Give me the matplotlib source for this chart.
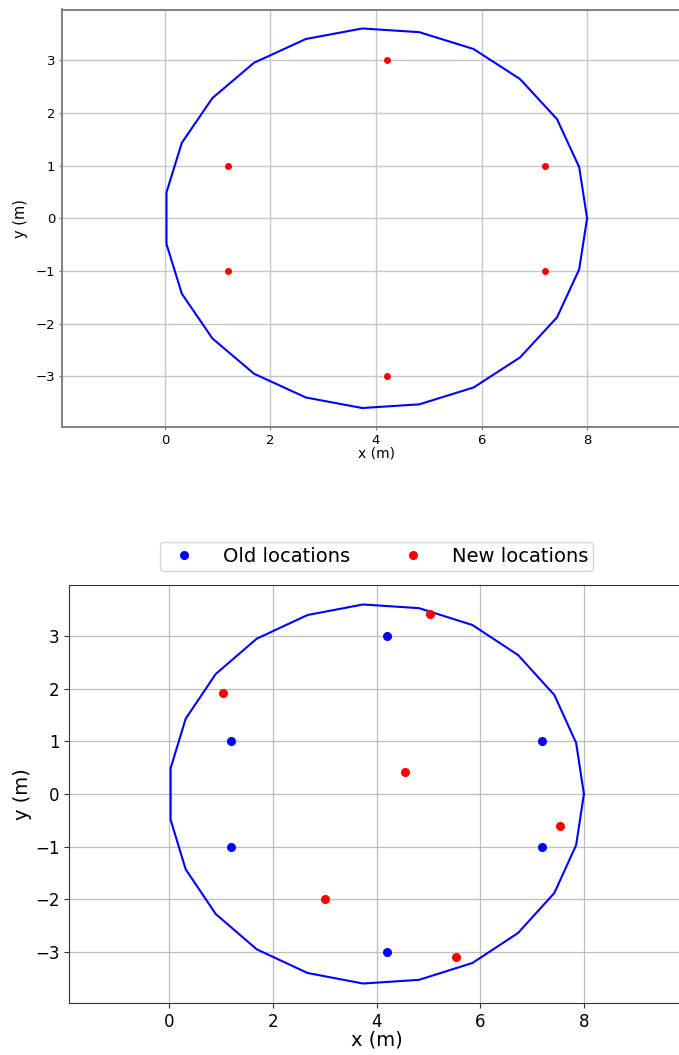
import numpy as np
import matplotlib
matplotlib.use('Agg')
import matplotlib.pyplot as plt

# boundary polygon of the room (m)
wall_x = [8.00, 7.85, 7.43, 6.73, 5.85, 4.82, 3.74, 2.67, 1.69, 0.90, 0.32, 0.03,
          0.03, 0.32, 0.90, 1.69, 2.67, 3.74, 4.82, 5.85, 6.73, 7.43, 7.85, 8.00]
wall_y = [0.00, 0.97, 1.88, 2.64, 3.21, 3.53, 3.60, 3.40, 2.95, 2.28, 1.43, 0.49,
          -0.49, -1.43, -2.28, -2.95, -3.40, -3.60, -3.53, -3.21, -2.64, -1.88, -0.97, 0.00]

# sensor positions
old_x = [1.2, 1.2, 4.2, 4.2, 7.2, 7.2]
old_y = [1.0, -1.0, 3.0, -3.0, 1.0, -1.0]

new_x = [1.04, 3.00, 5.03, 4.55, 7.53, 5.53]
new_y = [1.92, -2.00, 3.41, 0.41, -0.60, -3.10]

W, H = 679, 1055
fig = plt.figure(figsize=(W / 100, H / 100), dpi=100)

# ---- top: original layout
ax1 = fig.add_axes([62 / W, 1 - 427 / H, (690 - 62) / W, (427 - 9.5) / H])
ax1.plot(wall_x, wall_y, color='blue', lw=1.5, zorder=3)
ax1.plot(old_x, old_y, 'o', color='red', markersize=4, zorder=4)
ax1.set_xlim(-1.95, 9.95)
ax1.set_ylim(-3.96, 3.96)
ax1.set_xticks([0, 2, 4, 6, 8])
ax1.set_yticks([-3, -2, -1, 0, 1, 2, 3])
ax1.grid(True, color='#c8c8c8', lw=1.0)
ax1.set_axisbelow(True)
ax1.tick_params(labelsize=9.5, length=2.5, pad=2.5, color='#777777')
for s in ax1.spines.values():
    s.set_color('#777777')
    s.set_linewidth(1.3)
ax1.set_xlabel('x (m)', fontsize=10, labelpad=0)
ax1.set_ylabel('y (m)', fontsize=10.5, labelpad=5)

# ---- bottom: old vs new
ax2 = fig.add_axes([69 / W, 1 - 1003 / H, (684 - 69) / W, (1003 - 585) / H])
ax2.plot(wall_x, wall_y, color='blue', lw=1.5, zorder=3)
ax2.plot(old_x, old_y, 'o', color='blue', markersize=5.5, label='Old locations', zorder=4)
ax2.plot(new_x, new_y, 'o', color='red', markersize=5.5, label='New locations', zorder=4)
ax2.set_xlim(-1.93, 9.93)
ax2.set_ylim(-3.97, 3.97)
ax2.set_xticks([0, 2, 4, 6, 8])
ax2.set_yticks([-3, -2, -1, 0, 1, 2, 3])
ax2.grid(True, color='#bdbdbd', lw=0.9)
ax2.set_axisbelow(True)
ax2.tick_params(labelsize=12, color='#333333')
for s in ax2.spines.values():
    s.set_color('#333333')
ax2.set_xlabel('x (m)', fontsize=14, labelpad=0)
ax2.set_ylabel('y (m)', fontsize=14, labelpad=2)
ax2.legend(loc='lower center', bbox_to_anchor=(0.5, 1.034), borderaxespad=0,
           ncol=2, fontsize=14, borderpad=0.25, handletextpad=1.0, columnspacing=2.2)

plt.savefig('out.png', dpi=100)
